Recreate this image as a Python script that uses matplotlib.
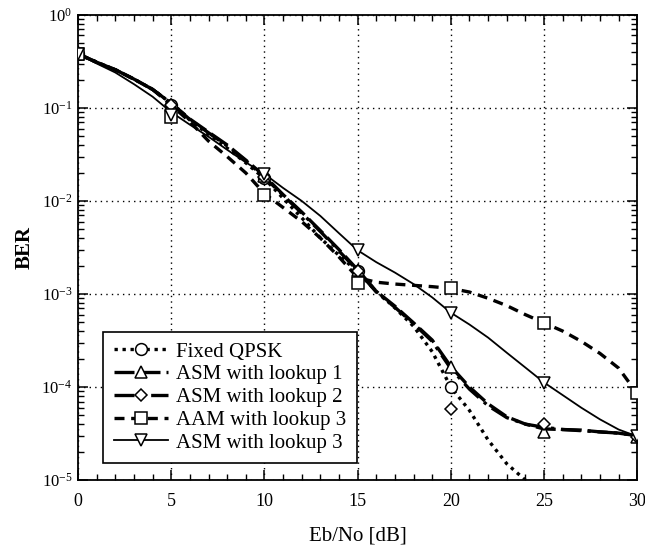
import matplotlib
matplotlib.use('Agg')
from matplotlib import pyplot as plt
from matplotlib.lines import Line2D
from matplotlib.ticker import MultipleLocator, LogLocator, NullFormatter

plt.rcParams['font.family'] = ['Liberation Serif', 'DejaVu Serif']
plt.rcParams['mathtext.fontset'] = 'stix'

# Eb/No axis (dB), one value per dB for the curves, every 5 dB for the markers
snr = list(range(31))
snr_marks = [0, 5, 10, 15, 20, 25, 30]

# BER curves
ber_qpsk = [0.38, 0.31, 0.257, 0.204, 0.158, 0.112, 0.074, 0.052, 0.037, 0.0257, 0.0174,
            0.0107, 0.0066, 0.0040, 0.0026, 0.00174, 0.00107, 0.00071, 0.00045, 0.00024,
            1.0e-4, 5.6e-5, 2.7e-5, 1.5e-5, 1.0e-5, 7e-6]
ber_asm1 = [0.38, 0.31, 0.257, 0.204, 0.158, 0.112, 0.076, 0.055, 0.040, 0.0275, 0.0186,
            0.0117, 0.0076, 0.0048, 0.0030, 0.00182, 0.00107, 0.00074, 0.00049, 0.00032,
            0.000166, 1.0e-4, 6.6e-5, 4.8e-5, 4.0e-5, 3.55e-5, 3.5e-5, 3.45e-5, 3.3e-5,
            3.2e-5, 3.0e-5]
ber_asm2 = [0.38, 0.31, 0.257, 0.204, 0.158, 0.112, 0.075, 0.054, 0.039, 0.027, 0.018,
            0.0115, 0.0074, 0.0047, 0.0029, 0.00178, 0.00105, 0.00072, 0.00048, 0.00031,
            0.000158, 9.5e-5, 6.3e-5, 4.7e-5, 4.0e-5, 3.7e-5, 3.5e-5, 3.4e-5, 3.3e-5,
            3.2e-5, 3.0e-5]
ber_aam3 = [0.38, 0.31, 0.257, 0.204, 0.158, 0.107, 0.071, 0.044, 0.030, 0.020, 0.012,
            0.0085, 0.0060, 0.0040, 0.0025, 0.0015, 0.00134, 0.00128, 0.00124, 0.0012,
            0.00115, 0.00105, 9.0e-4, 7.5e-4, 6.0e-4, 4.9e-4, 4.0e-4, 3.1e-4, 2.3e-4,
            1.6e-4, 8.5e-5]
ber_asm3 = [0.38, 0.30, 0.24, 0.18, 0.132, 0.09, 0.066, 0.049, 0.0355, 0.026, 0.0195,
            0.0138, 0.010, 0.0069, 0.0045, 0.00295, 0.0022, 0.0017, 0.00128, 0.00092,
            0.00063, 0.00047, 0.00034, 0.000234, 0.000162, 0.000112, 8.2e-5, 6.0e-5,
            4.5e-5, 3.5e-5, 2.95e-5]

# simulated points
mk_qpsk = [0.38, 0.107, 0.0178, 0.00178, 1.0e-4]
mk_asm1 = [0.38, 0.107, 0.0186, 0.00182, 0.000166, 3.3e-5, 2.9e-5]
mk_asm2 = [0.38, 0.107, 0.018, 0.00178, 5.75e-5, 4.0e-5, 2.9e-5]
mk_aam3 = [0.38, 0.079, 0.0115, 0.00132, 0.00117, 0.00049, 8.6e-5]
mk_asm3 = [0.38, 0.083, 0.0195, 0.00295, 0.00063, 0.000112, 2.95e-5]

labels = ['Fixed QPSK', 'ASM with lookup 1', 'ASM with lookup 2',
          'AAM with lookup 3', 'ASM with lookup 3']

series = [
    (ber_qpsk, mk_qpsk, 'o', dict(linestyle=(0, (1, 1.4)), linewidth=2.4)),
    (ber_asm1, mk_asm1, '^', dict(linestyle=(0, (6, 1.8)), linewidth=2.4)),
    (ber_asm2, mk_asm2, 'D', dict(linestyle=(0, (6, 2, 1, 2)), linewidth=2.4)),
    (ber_aam3, mk_aam3, 's', dict(linestyle=(0, (3, 2)), linewidth=2.4)),
    (ber_asm3, mk_asm3, 'v', dict(linestyle='-', linewidth=1.3)),
]
msizes = {'o': 8.5, '^': 8.5, 'D': 6.5, 's': 9, 'v': 9}

fig = plt.figure(figsize=(6.45, 5.5), dpi=100)
ax = fig.add_axes([0.121, 0.127, 0.867, 0.846])

handles = []
for (curve, marks, m, style), label in zip(series, labels):
    ax.plot(snr[:len(curve)], curve, color='black', dash_capstyle='butt', zorder=3, **style)
    ax.plot(snr_marks[:len(marks)], marks, linestyle='none', marker=m, markersize=msizes[m],
            markerfacecolor='white', markeredgecolor='black', markeredgewidth=1.1, zorder=4)
    handles.append(Line2D([], [], color='black', marker=m, markersize=msizes[m],
                          markerfacecolor='white', markeredgecolor='black',
                          markeredgewidth=1.1, dash_capstyle='butt', **style))

ax.set_yscale('log')
ax.set_xlim(0, 30)
ax.set_ylim(1e-5, 1)
ax.xaxis.set_major_locator(MultipleLocator(5))
ax.xaxis.set_minor_locator(MultipleLocator(1))
ax.yaxis.set_major_locator(LogLocator(base=10, numticks=10))
ax.yaxis.set_minor_locator(LogLocator(base=10, subs=range(2, 10), numticks=10))
ax.yaxis.set_minor_formatter(NullFormatter())

ax.tick_params(which='both', direction='in', top=True, right=True, colors='black')
ax.tick_params(axis='x', labelsize=13, pad=9)
ax.tick_params(axis='y', labelsize=12, pad=4)
ax.tick_params(which='major', length=7, width=1.1)
ax.tick_params(which='minor', length=4, width=1.0)
for s in ax.spines.values():
    s.set_linewidth(1.3)

ax.grid(True, which='major', color='black', linestyle=(0, (1, 3)), linewidth=1.0)

ax.set_xlabel('Eb/No [dB]', fontsize=15, labelpad=12)
ax.set_ylabel('BER', fontsize=15, fontweight='bold', labelpad=5)

leg = ax.legend(handles, labels, loc='lower left', bbox_to_anchor=(0.045, 0.037),
                borderaxespad=0, fontsize=15, handlelength=2.6, handletextpad=0.4,
                labelspacing=0.15, borderpad=0.5, fancybox=False, framealpha=1,
                edgecolor='black', numpoints=1)
leg.get_frame().set_linewidth(1.2)
leg.set_zorder(5)

fig.savefig('out.png', dpi=100)
